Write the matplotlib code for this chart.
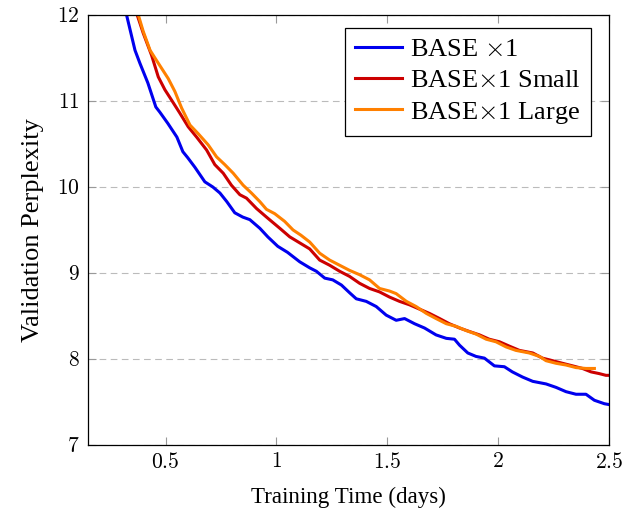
import matplotlib
matplotlib.use("Agg")
import matplotlib.pyplot as plt
from matplotlib.ticker import FuncFormatter

plt.rcParams['font.family'] = ['Liberation Serif', 'DejaVu Serif']
plt.rcParams['mathtext.fontset'] = 'cm'

base_x = [0.324, 0.362, 0.384, 0.42, 0.456, 0.474, 0.51, 0.551, 0.578, 0.60, 0.632, 0.677,
          0.713, 0.745, 0.776, 0.812, 0.848, 0.88, 0.925, 0.961, 1.006, 1.05, 1.105, 1.15,
          1.18, 1.218, 1.254, 1.293, 1.33, 1.36, 1.405, 1.45, 1.495, 1.54, 1.578, 1.623,
          1.668, 1.72, 1.766, 1.803, 1.826, 1.863, 1.90, 1.938, 1.983, 2.028, 2.064, 2.11,
          2.156, 2.216, 2.261, 2.306, 2.351, 2.396, 2.434, 2.479, 2.5]
base_y = [12.0, 11.59, 11.44, 11.21, 10.93, 10.87, 10.74, 10.58, 10.41, 10.34, 10.23, 10.06,
          10.0, 9.93, 9.83, 9.70, 9.65, 9.62, 9.52, 9.42, 9.31, 9.24, 9.13, 9.06,
          9.02, 8.94, 8.92, 8.86, 8.77, 8.70, 8.67, 8.61, 8.51, 8.45, 8.47, 8.41,
          8.36, 8.28, 8.24, 8.23, 8.16, 8.07, 8.03, 8.01, 7.92, 7.91, 7.85, 7.79,
          7.74, 7.71, 7.67, 7.62, 7.59, 7.59, 7.52, 7.48, 7.47]

small_x = [0.372, 0.399, 0.437, 0.467, 0.497, 0.527, 0.564, 0.602, 0.64, 0.685, 0.722, 0.76,
           0.797, 0.835, 0.865, 0.91, 0.955, 1.015, 1.06, 1.105, 1.15, 1.195, 1.24, 1.285,
           1.33, 1.375, 1.42, 1.465, 1.51, 1.555, 1.60, 1.645, 1.69, 1.736, 1.78, 1.826,
           1.87, 1.916, 1.96, 2.006, 2.05, 2.096, 2.156, 2.20, 2.246, 2.29, 2.336, 2.38,
           2.419, 2.456, 2.486, 2.5]
small_y = [12.0, 11.79, 11.53, 11.28, 11.13, 11.01, 10.86, 10.70, 10.58, 10.43, 10.26, 10.16,
           10.02, 9.91, 9.87, 9.75, 9.65, 9.52, 9.42, 9.35, 9.28, 9.15, 9.09, 9.02,
           8.96, 8.88, 8.82, 8.78, 8.72, 8.67, 8.63, 8.58, 8.53, 8.47, 8.41, 8.36,
           8.32, 8.28, 8.23, 8.20, 8.15, 8.10, 8.07, 8.01, 7.98, 7.95, 7.92, 7.89,
           7.85, 7.83, 7.81, 7.81]

large_x = [0.377, 0.399, 0.43, 0.452, 0.482, 0.512, 0.542, 0.572, 0.61, 0.647, 0.692, 0.73,
           0.767, 0.805, 0.85, 0.887, 0.925, 0.955, 0.992, 1.037, 1.075, 1.11, 1.15, 1.195,
           1.24, 1.285, 1.33, 1.375, 1.42, 1.465, 1.51, 1.54, 1.586, 1.63, 1.676, 1.72,
           1.766, 1.81, 1.856, 1.90, 1.946, 1.99, 2.036, 2.08, 2.14, 2.186, 2.216, 2.261,
           2.306, 2.351, 2.396, 2.434]
large_y = [12.0, 11.81, 11.59, 11.50, 11.38, 11.26, 11.11, 10.92, 10.72, 10.62, 10.49, 10.35,
           10.26, 10.16, 10.02, 9.93, 9.83, 9.74, 9.69, 9.60, 9.50, 9.44, 9.36, 9.23,
           9.15, 9.09, 9.03, 8.98, 8.92, 8.82, 8.79, 8.76, 8.67, 8.61, 8.53, 8.47,
           8.41, 8.38, 8.33, 8.29, 8.23, 8.20, 8.14, 8.10, 8.07, 8.03, 7.98, 7.95,
           7.93, 7.90, 7.89, 7.89]

labels = ['BASE $\\times$1', 'BASE$\\times$1 Small', 'BASE$\\times$1 Large']
colors = ['#0000ee', '#cc0000', '#ff8000']
xticks = [0.5, 1, 1.5, 2, 2.5]
yticks = [7, 8, 9, 10, 11, 12]

fig = plt.figure(figsize=(6.24, 5.16), dpi=100)
ax = fig.add_axes([0.141, 0.1376, 0.835, 0.8334])

for xs, ys, lab, c in zip([base_x, small_x, large_x], [base_y, small_y, large_y], labels, colors):
    ax.plot(xs, ys, color=c, lw=2.2, label=lab, solid_joinstyle='round')

ax.set_xlim(0.15, 2.5)
ax.set_ylim(7, 12)
ax.set_xticks(xticks)
ax.set_yticks(yticks)
fmt = FuncFormatter(lambda v, p: f'${v:g}$')
ax.xaxis.set_major_formatter(fmt)
ax.yaxis.set_major_formatter(fmt)
ax.tick_params(direction='in', length=6, width=0.8, color='#999999', labelsize=15.5,
               top=True, right=True, pad=6)
ax.yaxis.grid(True, linestyle=(0, (6, 4)), color='#bbbbbb', lw=0.8)
ax.set_axisbelow(True)
for s in ax.spines.values():
    s.set_linewidth(0.9)
    s.set_color('black')

ax.set_xlabel('Training Time (days)', fontsize=16.6, labelpad=10)
ax.set_ylabel('Validation Perplexity', fontsize=19, labelpad=9)

leg = ax.legend(loc='upper right', bbox_to_anchor=(0.965, 0.97), fontsize=19,
                frameon=True, fancybox=False, edgecolor='black', framealpha=1,
                handlelength=1.8, handletextpad=0.3, borderpad=0.38, labelspacing=0.28,
                borderaxespad=0)
leg.get_frame().set_linewidth(0.9)

fig.savefig('out.png', dpi=100)
